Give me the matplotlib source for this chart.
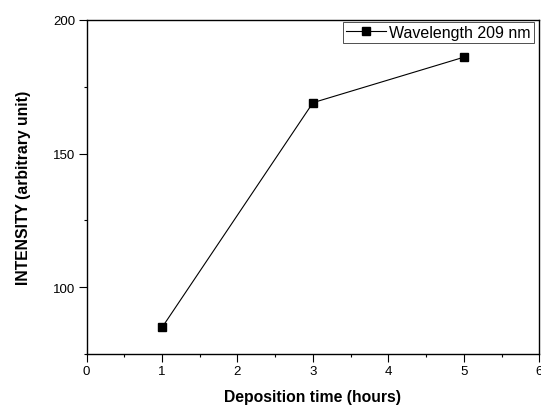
import matplotlib
matplotlib.use("Agg")
import matplotlib.pyplot as plt
from matplotlib.ticker import MultipleLocator

# data
time_h = [1, 3, 5]
intensity = [85, 169, 186]
series_label = "Wavelength 209 nm"

plt.rcParams['font.family'] = ['Liberation Sans', 'DejaVu Sans']

fig = plt.figure(figsize=(5.41, 4.06), dpi=100)
ax = fig.add_axes([0.160, 0.125, 0.837, 0.824])

ax.plot(time_h, intensity, color='black', lw=0.8, marker='s', ms=6,
        label=series_label)

ax.set_xlim(0, 6)
ax.set_ylim(75, 200)
ax.xaxis.set_major_locator(MultipleLocator(1))
ax.xaxis.set_minor_locator(MultipleLocator(0.5))
ax.yaxis.set_major_locator(MultipleLocator(50))
ax.yaxis.set_minor_locator(MultipleLocator(25))

ax.tick_params(which='major', direction='out', length=5.5, width=0.8,
               labelsize=9.5, pad=2.5)
ax.tick_params(which='minor', direction='out', length=2.5, width=0.8)
for sp in ax.spines.values():
    sp.set_linewidth(1.0)

ax.set_xlabel("Deposition time (hours)", fontsize=11.3, fontweight='bold',
              labelpad=8.5)
ax.set_ylabel("INTENSITY (arbitrary unit)", fontsize=11.3, fontweight='bold',
              labelpad=16)

leg = ax.legend(loc='upper right', bbox_to_anchor=(0.988, 0.994),
                fontsize=11.5, frameon=True, fancybox=False,
                handlelength=2.5, handletextpad=0.2, borderpad=0.2,
                borderaxespad=0)
leg.get_frame().set_edgecolor('black')
leg.get_frame().set_linewidth(0.6)

fig.savefig('out.png', dpi=100)
